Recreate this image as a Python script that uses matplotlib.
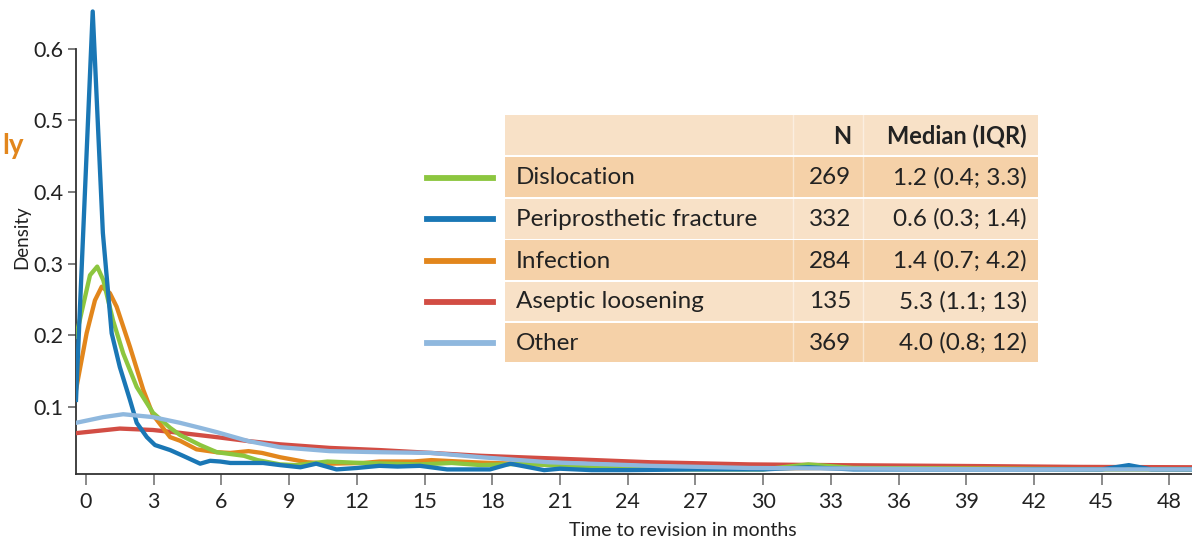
import matplotlib.pyplot as plt
from matplotlib.patches import Rectangle
from matplotlib.lines import Line2D

plt.rcParams['font.family'] = ['Lato', 'DejaVu Sans']

# density curves (months, density)
disloc_x = [-0.44, 0.18, 0.5, 0.77, 1.2, 1.65, 2.25, 2.97, 3.73, 4.17, 5.06, 5.8, 7.0, 7.6,
            8.6, 9.3, 10.7, 12.2, 14.8, 16.2, 17.5, 19.5, 21.5, 24, 27, 30, 32, 34, 40, 45, 49]
disloc_y = [0.198, 0.284, 0.296, 0.277, 0.221, 0.175, 0.128, 0.092, 0.071, 0.061, 0.047, 0.037,
            0.032, 0.026, 0.020, 0.019, 0.024, 0.022, 0.020, 0.022, 0.019, 0.021, 0.017, 0.014,
            0.013, 0.013, 0.020, 0.015, 0.014, 0.013, 0.013]

fract_x = [-0.44, 0.3, 0.75, 1.14, 1.5, 1.95, 2.25, 2.7, 3.06, 3.73, 4.3, 5.06, 5.5, 5.95, 6.4,
           7.85, 8.6, 9.5, 10.2, 11.1, 12, 13, 13.8, 14.8, 16, 17.9, 18.8, 20.3, 21, 22.4, 24,
           27, 30, 32, 34, 38, 42, 45, 46.2, 47.2, 49]
fract_y = [0.11, 0.652, 0.343, 0.203, 0.156, 0.11, 0.078, 0.058, 0.047, 0.040, 0.032, 0.021,
           0.025, 0.024, 0.022, 0.022, 0.019, 0.016, 0.021, 0.013, 0.015, 0.018, 0.017, 0.018,
           0.013, 0.013, 0.021, 0.012, 0.014, 0.012, 0.012, 0.013, 0.013, 0.016, 0.013, 0.013,
           0.013, 0.013, 0.019, 0.013, 0.013]

infect_x = [-0.44, 0.03, 0.4, 0.7, 1.06, 1.36, 1.95, 2.54, 2.97, 3.73, 4.17, 4.9, 5.8, 6.4, 7.2,
            7.8, 8.6, 9.8, 10.8, 12.3, 13, 14.5, 15.3, 17.5, 20, 22, 24, 28, 33, 40, 49]
infect_y = [0.124, 0.203, 0.249, 0.268, 0.259, 0.24, 0.184, 0.124, 0.089, 0.058, 0.053, 0.041,
            0.037, 0.036, 0.0385, 0.036, 0.030, 0.023, 0.021, 0.022, 0.024, 0.024, 0.026, 0.0225,
            0.020, 0.019, 0.016, 0.014, 0.015, 0.014, 0.013]

asept_x = [-0.44, 1.5, 2.97, 4.17, 5.8, 7.2, 8.6, 10.8, 13, 15.3, 17.5, 20.5, 25, 29.4, 33,
           39.7, 44, 49]
asept_y = [0.0636, 0.070, 0.068, 0.064, 0.058, 0.0525, 0.048, 0.043, 0.040, 0.036, 0.032,
           0.0285, 0.023, 0.020, 0.019, 0.0176, 0.0165, 0.016]

other_x = [-0.44, 0.77, 1.65, 2.97, 4.17, 5.06, 5.8, 7.2, 8.6, 10.8, 13, 15.3, 17.5, 20.5, 25,
           29.4, 35, 42, 49]
other_y = [0.078, 0.086, 0.090, 0.086, 0.078, 0.071, 0.065, 0.0525, 0.044, 0.0385, 0.037, 0.036,
           0.030, 0.023, 0.018, 0.015, 0.014, 0.013, 0.013]

labels = ['Dislocation', 'Periprosthetic fracture', 'Infection', 'Aseptic loosening', 'Other']
counts = ['269', '332', '284', '135', '369']
medians = ['1.2 (0.4; 3.3)', '0.6 (0.3; 1.4)', '1.4 (0.7; 4.2)', '5.3 (1.1; 13)', '4.0 (0.8; 12)']
colors = ['#8cc63f', '#1a77b5', '#e2861c', '#d24d44', '#8fb8de']

fig = plt.figure(figsize=(11.92, 5.39), dpi=100)
ax = fig.add_axes([76/1192, 65/539, 1 - 76/1192, 1 - 65/539])

series = [(asept_x, asept_y, 3), (infect_x, infect_y, 4), (disloc_x, disloc_y, 5),
          (fract_x, fract_y, 6), (other_x, other_y, 7)]
cols = [colors[3], colors[2], colors[0], colors[1], colors[4]]
for (xs, ys, z), c in zip(series, cols):
    ax.plot(xs, ys, color=c, lw=3.1, zorder=z, solid_joinstyle='round')

ax.set_xlim(-0.44, 49)
ax.set_ylim(0.0066, 0.668)
ax.set_xticks(range(0, 49, 3))
ax.set_yticks([0.1, 0.2, 0.3, 0.4, 0.5, 0.6])
ax.set_yticklabels(['0.1', '0.2', '0.3', '0.4', '0.5', '0.6'])
ax.spines['top'].set_visible(False)
ax.spines['right'].set_visible(False)
ax.spines['left'].set_bounds(0.0066, 0.6)
for s in ['left', 'bottom']:
    ax.spines[s].set_color('#333333')
    ax.spines[s].set_linewidth(1.3)
ax.tick_params(axis='y', length=6, width=1.2, color='#666666', labelsize=15.5,
               labelcolor='#222222', pad=3)
ax.tick_params(axis='x', length=8, width=1.2, color='#777777', labelsize=15.5,
               labelcolor='#222222', pad=5)
ax.set_ylabel('Density', fontsize=13.5, color='#222222', labelpad=2)
ax.set_xlabel('Time to revision in months', fontsize=14, color='#222222', labelpad=7,
              x=0.544)

fig.text(2/1192, 1 - 146/539, 'ly', color='#e2861c', fontsize=20, fontweight='bold',
         ha='left', va='center')

# table with legend keys
def fx(px):
    return px / 1192

def fy(py):
    return 1 - py / 539

light = '#f8e1c7'
dark = '#f5d1a8'
rows_top = [115, 157, 199, 240, 282, 323]
rows_bot = [155, 197, 239, 280, 321, 362]
fills = [light, dark, light, dark, light, dark]
for t, b, f in zip(rows_top, rows_bot, fills):
    fig.add_artist(Rectangle((fx(505), fy(b)), fx(1038) - fx(505), fy(t) - fy(b),
                             transform=fig.transFigure, facecolor=f, edgecolor='none',
                             zorder=10))
for sx in [793, 863]:
    fig.add_artist(Line2D([fx(sx), fx(sx)], [fy(362), fy(115)], color='white', lw=1,
                          alpha=0.45, transform=fig.transFigure, zorder=11))

fig.text(fx(851), fy(136), 'N', fontsize=17, fontweight='bold', ha='right', va='center',
         color='#222222', zorder=12)
fig.text(fx(1027), fy(136), 'Median (IQR)', fontsize=17, fontweight='bold', ha='right',
         va='center', color='#222222', zorder=12)
centers = [178, 219, 261, 302, 343]
for cy, lab, n, med, c in zip(centers, labels, counts, medians, colors):
    fig.add_artist(Line2D([fx(427), fx(493)], [fy(cy), fy(cy)], color=c, lw=4.2,
                          transform=fig.transFigure, zorder=12))
    fig.text(fx(516), fy(cy), lab, fontsize=17.5, ha='left', va='center', color='#222222',
             zorder=12)
    fig.text(fx(851), fy(cy), n, fontsize=17.5, ha='right', va='center', color='#222222',
             zorder=12)
    fig.text(fx(1027), fy(cy), med, fontsize=17.5, ha='right', va='center', color='#222222',
             zorder=12)

fig.savefig('out.png', dpi=100)
